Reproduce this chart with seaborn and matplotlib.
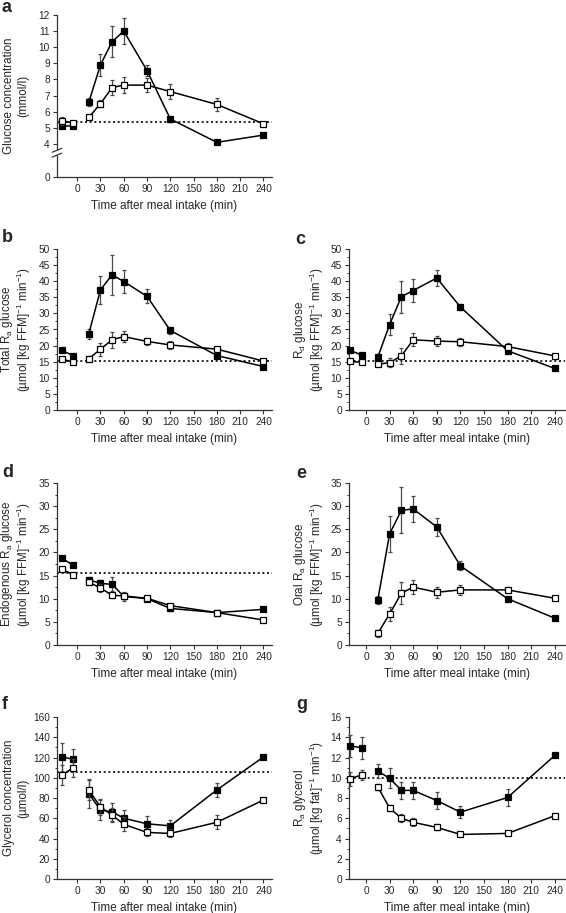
import numpy as np
import matplotlib
matplotlib.use('Agg')
import matplotlib.pyplot as plt
import seaborn as sns
from matplotlib.ticker import MultipleLocator

sns.set_style('ticks')
plt.rcParams['font.family'] = ['Liberation Sans', 'DejaVu Sans']
plt.rcParams['mathtext.default'] = 'regular'

# time points (min)
time = [-20, -5, 15, 30, 45, 60, 90, 120, 180, 240]
time_oral = [15, 30, 45, 60, 90, 120, 180, 240]
xticks = [0, 30, 60, 90, 120, 150, 180, 210, 240]

# a: glucose concentration (mmol/l)
glc_filled = [5.1, 5.1, 6.6, 8.9, 10.35, 11.0, 8.55, 5.55, 4.1, 4.55]
glc_filled_err = [0.1, 0.1, 0.25, 0.7, 0.95, 0.8, 0.35, 0.2, 0.08, 0.08]
glc_open = [5.45, 5.3, 5.65, 6.5, 7.5, 7.65, 7.65, 7.25, 6.45, 5.25]
glc_open_err = [0.25, 0.1, 0.15, 0.2, 0.45, 0.5, 0.45, 0.45, 0.4, 0.08]
glc_basal = 5.35

# b: total Ra glucose
tra_filled = [18.5, 16.9, 23.7, 37.3, 42.0, 39.9, 35.3, 24.7, 16.9, 13.5]
tra_filled_err = [0.6, 0.5, 1.6, 4.3, 6.2, 3.6, 2.2, 1.2, 0.6, 0.4]
tra_open = [15.9, 14.8, 15.9, 18.9, 21.8, 22.8, 21.3, 20.2, 18.9, 15.2]
tra_open_err = [0.6, 0.5, 0.8, 2.0, 2.5, 1.6, 1.2, 1.2, 0.7, 0.4]
tra_basal = 15.25

# c: Rd glucose
rd_filled = [18.5, 17.0, 16.4, 26.5, 35.2, 37.1, 41.0, 32.0, 18.4, 12.9]
rd_filled_err = [0.6, 0.5, 1.0, 3.2, 5.0, 3.7, 2.4, 1.0, 0.8, 0.4]
rd_open = [15.1, 14.8, 14.2, 14.7, 16.8, 21.8, 21.4, 21.2, 19.7, 16.8]
rd_open_err = [0.5, 0.4, 0.6, 1.5, 2.5, 2.0, 1.5, 1.2, 1.0, 0.4]
rd_basal = 15.1

# d: endogenous Ra glucose
egp_filled = [18.8, 17.2, 14.1, 13.3, 13.1, 10.5, 10.0, 7.9, 7.0, 7.7]
egp_filled_err = [0.5, 0.4, 0.6, 0.8, 1.5, 1.0, 0.6, 0.5, 0.4, 0.3]
egp_open = [16.4, 15.2, 13.6, 12.3, 10.75, 10.6, 10.1, 8.5, 7.0, 5.4]
egp_open_err = [0.5, 0.4, 0.5, 0.8, 0.6, 0.5, 0.5, 0.4, 0.3, 0.3]
egp_basal = 15.5

# e: oral Ra glucose
ora_filled = [9.7, 24.0, 29.1, 29.4, 25.5, 17.1, 10.0, 5.8]
ora_filled_err = [0.8, 3.8, 5.0, 2.8, 2.0, 1.0, 0.4, 0.3]
ora_open = [2.5, 6.7, 11.2, 12.5, 11.4, 11.9, 11.9, 10.1]
ora_open_err = [0.7, 1.5, 2.4, 1.5, 1.2, 1.0, 0.6, 0.3]

# f: glycerol concentration (umol/l)
gly_filled = [120.6, 118.3, 84.4, 68.0, 66.4, 60.0, 54.5, 52.5, 88.0, 120.5]
gly_filled_err = [14, 10, 14, 10, 9, 8, 8, 6, 7, 2]
gly_open = [102.5, 110.0, 87.7, 71.3, 63.0, 54.0, 46.0, 45.0, 56.0, 78.0]
gly_open_err = [10, 9, 10, 8, 7, 7, 4, 4, 7, 2]
gly_basal = 106

# g: Ra glycerol
rag_filled = [13.15, 12.95, 10.65, 9.95, 8.75, 8.75, 7.75, 6.6, 8.05, 12.2]
rag_filled_err = [1.1, 1.1, 0.7, 1.0, 0.8, 0.8, 0.8, 0.6, 0.8, 0.15]
rag_open = [9.9, 10.3, 9.1, 7.0, 6.0, 5.6, 5.1, 4.4, 4.5, 6.25]
rag_open_err = [0.7, 0.5, 0.3, 0.3, 0.4, 0.4, 0.3, 0.1, 0.1, 0.1]
rag_basal = 10.0

W, H = 566, 913
fig = plt.figure(figsize=(W / 100, H / 100), dpi=100)


def make_ax(left_px, zero_px, top_px, right_px):
    return fig.add_axes([left_px / W, 1 - zero_px / H,
                         (right_px - left_px) / W, (zero_px - top_px) / H])


def draw_series(ax, t, y, err, filled):
    t = np.asarray(t)
    y = np.asarray(y)
    err = np.asarray(err)
    z = 3 if filled else 4
    ax.errorbar(t, y, yerr=err, fmt='none', ecolor='#4a4a4a', elinewidth=0.9,
                capsize=1.6, capthick=0.9, zorder=z, clip_on=False)
    # baseline and post-meal points are not joined
    for mask in (t < 0, t > 0):
        if mask.sum() == 0:
            continue
        sns.lineplot(x=t[mask], y=y[mask], ax=ax, color='black', lw=1.1,
                     marker='s', markersize=4.6, markeredgewidth=0.9,
                     markeredgecolor='black',
                     markerfacecolor='black' if filled else 'white',
                     zorder=z + 0.5, clip_on=False)


def style_ax(ax, xlim, ymax, ystep, ylabel, basal=None, minor=True):
    ax.set_xlim(*xlim)
    ax.set_xticks(xticks)
    ax.set_ylim(0, ymax)
    ax.yaxis.set_major_locator(MultipleLocator(ystep))
    if minor:
        ax.yaxis.set_minor_locator(MultipleLocator(ystep / 2))
    for s in ('top', 'right'):
        ax.spines[s].set_visible(False)
    for s in ('left', 'bottom'):
        ax.spines[s].set_linewidth(0.9)
        ax.spines[s].set_color('#333333')
    ax.tick_params(axis='both', which='major', length=2.6, width=0.8,
                   pad=2.5, labelsize=7.3, color='#333333')
    ax.tick_params(axis='y', which='minor', length=1.5, width=0.7,
                   color='#333333')
    ax.set_xlabel('Time after meal intake (min)', fontsize=8.5, labelpad=4.5)
    ls = 0.95 if '$' in ylabel else 1.25
    ax.set_ylabel(ylabel, fontsize=8.4, linespacing=ls, ha='center',
                  va='center')
    if basal is not None:
        ax.axhline(basal, color='black', ls=(0, (1.2, 1.6)), lw=1.2,
                   zorder=2)


left_xlim = (-26, 251)
right_xlim = (-21.6, 253)


# ---- a ----  (broken y axis between 0 and 4)
def fwd(y):
    y = np.asarray(y, dtype=float)
    return np.where(y >= 4, y - 4 + 2.05, y * 2.05 / 4)


def inv(v):
    v = np.asarray(v, dtype=float)
    return np.where(v >= 2.05, v + 4 - 2.05, v * 4 / 2.05)


ax_a = make_ax(57, 177, 15, 272)
ax_a.set_yscale('function', functions=(fwd, inv))
draw_series(ax_a, time, glc_filled, glc_filled_err, True)
draw_series(ax_a, time, glc_open, glc_open_err, False)
style_ax(ax_a, left_xlim, 12, 1, 'Glucose concentration\n(mmol/l)',
         glc_basal, minor=False)
ax_a.set_yticks([0, 4, 5, 6, 7, 8, 9, 10, 11, 12])
ax_a.set_ylim(0, 12)
for yb in (0.135, 0.165):
    ax_a.plot([-0.022, 0.022], [yb - 0.012, yb + 0.012], transform=ax_a.transAxes,
              color='#333333', lw=0.9, clip_on=False, zorder=6)
ax_a.plot([0, 0], [0.14, 0.16], transform=ax_a.transAxes, color='white',
          lw=2, clip_on=False, zorder=5)

# ---- b ----
ax_b = make_ax(57, 410, 249, 272)
draw_series(ax_b, time, tra_filled, tra_filled_err, True)
draw_series(ax_b, time, tra_open, tra_open_err, False)
style_ax(ax_b, left_xlim, 50, 5,
         'Total R$_a$ glucose\n(µmol [kg FFM]$^{-1}$ min$^{-1}$)', tra_basal)

# ---- c ----
ax_c = make_ax(349, 410, 249, 565)
draw_series(ax_c, time, rd_filled, rd_filled_err, True)
draw_series(ax_c, time, rd_open, rd_open_err, False)
style_ax(ax_c, right_xlim, 50, 5,
         'R$_d$ glucose\n(µmol [kg FFM]$^{-1}$ min$^{-1}$)', rd_basal)

# ---- d ----
ax_d = make_ax(57, 645, 483, 272)
draw_series(ax_d, time, egp_filled, egp_filled_err, True)
draw_series(ax_d, time, egp_open, egp_open_err, False)
style_ax(ax_d, left_xlim, 35, 5,
         'Endogenous R$_a$ glucose\n(µmol [kg FFM]$^{-1}$ min$^{-1}$)', egp_basal)

# ---- e ----
ax_e = make_ax(349, 645, 483, 565)
draw_series(ax_e, time_oral, ora_filled, ora_filled_err, True)
draw_series(ax_e, time_oral, ora_open, ora_open_err, False)
style_ax(ax_e, right_xlim, 35, 5,
         'Oral R$_a$ glucose\n(µmol [kg FFM]$^{-1}$ min$^{-1}$)')

# ---- f ----
ax_f = make_ax(57, 879, 717, 272)
draw_series(ax_f, time, gly_filled, gly_filled_err, True)
draw_series(ax_f, time, gly_open, gly_open_err, False)
style_ax(ax_f, left_xlim, 160, 20, 'Glycerol concentration\n(µmol/l)', gly_basal)

# ---- g ----
ax_g = make_ax(349, 879, 717, 565)
draw_series(ax_g, time, rag_filled, rag_filled_err, True)
draw_series(ax_g, time, rag_open, rag_open_err, False)
style_ax(ax_g, right_xlim, 16, 2,
         'R$_a$ glycerol\n(µmol [kg fat]$^{-1}$ min$^{-1}$)', rag_basal)

for ax in (ax_a, ax_b, ax_d, ax_f):
    ax.yaxis.set_label_coords((16 - 57) / 215, 0.5)
for ax in (ax_c, ax_e, ax_g):
    ax.yaxis.set_label_coords((309 - 349) / 216, 0.5)

panel_labels = [('a', 2, 8), ('b', 2, 237), ('c', 295, 239), ('d', 2, 472),
                ('e', 296, 473), ('f', 2, 704), ('g', 296, 704)]
for lab, px, py in panel_labels:
    fig.text(px / W, 1 - py / H, lab, fontsize=13, fontweight='bold',
             ha='left', va='center')

fig.savefig('out.png', dpi=100)
